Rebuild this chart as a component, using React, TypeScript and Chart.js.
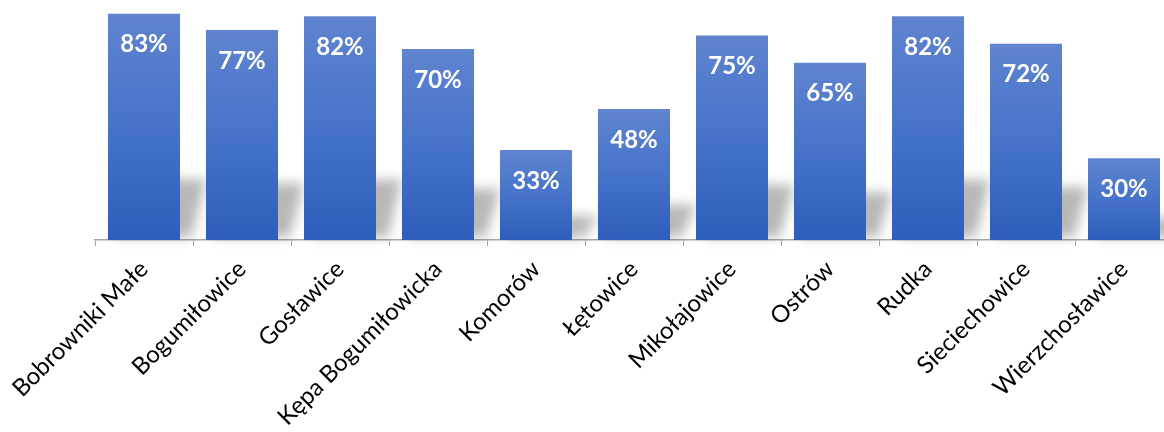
import React, { useEffect, useRef } from "react";
import { Chart, registerables } from "chart.js";

Chart.register(...registerables);

const categories = [
  "Bobrowniki Małe",
  "Bogumiłowice",
  "Gosławice",
  "Kępa Bogumiłowicka",
  "Komorów",
  "Łętowice",
  "Mikołajowice",
  "Ostrów",
  "Rudka",
  "Sieciechowice",
  "Wierzchosławice",
];
const values = [83, 77, 82, 70, 33, 48, 75, 65, 82, 72, 30];

const shadowPlugin = {
  id: "barShadow",
  beforeDatasetsDraw(chart: any) {
    const ctx = chart.ctx;
    const meta = chart.getDatasetMeta(0);
    ctx.save();
    ctx.filter = "blur(6px)";
    ctx.fillStyle = "rgba(0,0,0,0.28)";
    meta.data.forEach((bar: any) => {
      const p = bar.getProps(["x", "y", "base", "width"], true);
      const left = p.x - p.width / 2;
      const right = p.x + p.width / 2;
      const h = p.base - p.y;
      const sh = h * 0.27;
      ctx.beginPath();
      ctx.moveTo(left + 6, p.base - 3);
      ctx.lineTo(right + 12, p.base - 3);
      ctx.lineTo(right + 26, p.base - sh);
      ctx.lineTo(left + 20, p.base - sh);
      ctx.closePath();
      ctx.fill();
    });
    ctx.restore();
  },
};

const labelPlugin = {
  id: "barLabels",
  afterDatasetsDraw(chart: any) {
    const ctx = chart.ctx;
    const meta = chart.getDatasetMeta(0);
    ctx.save();
    ctx.fillStyle = "#ffffff";
    ctx.font = "bold 24px Lato";
    ctx.textAlign = "center";
    ctx.textBaseline = "middle";
    meta.data.forEach((bar: any, i: number) => {
      const p = bar.getProps(["x", "y"], true);
      ctx.fillText(values[i] + "%", p.x, p.y + 31);
    });
    ctx.restore();
  },
};

export default function App() {
  const ref = useRef<HTMLCanvasElement | null>(null);

  useEffect(() => {
    if (!ref.current) return;
    const chart = new Chart(ref.current, {
      type: "bar",
      data: {
        labels: categories,
        datasets: [
          {
            data: values,
            backgroundColor: (c: any) => {
              const ch = c.chart;
              const y = ch.scales && ch.scales.y;
              if (c.type !== "data" || !y || !c.parsed) return "#4470c4";
              const top = y.getPixelForValue(c.parsed.y);
              const base = y.getPixelForValue(0);
              if (!isFinite(top) || !isFinite(base) || top === base) return "#4470c4";
              const g = ch.ctx.createLinearGradient(0, top, 0, base);
              g.addColorStop(0, "#6084cf");
              g.addColorStop(0.5, "#4673c9");
              g.addColorStop(1, "#2e5eba");
              return g;
            },
            borderWidth: 0,
            categoryPercentage: 0.735,
            barPercentage: 1,
          },
        ],
      },
      options: {
        animation: false,
        responsive: false,
        maintainAspectRatio: false,
        layout: { padding: { left: 95, right: 7, top: 0, bottom: 0 } },
        plugins: {
          legend: { display: false },
          tooltip: { enabled: false },
          title: { display: false },
        },
        scales: {
          y: {
            display: false,
            min: 0,
            max: 88,
          },
          x: {
            offset: true,
            grid: {
              display: true,
              drawOnChartArea: false,
              drawTicks: true,
              tickLength: 6,
              color: "#a6a6a6",
              offset: true,
            },
            border: { display: true, color: "#a6a6a6", width: 1.5 },
            ticks: {
              autoSkip: false,
              minRotation: 45,
              maxRotation: 45,
              padding: 9,
              color: "#000000",
              font: { family: "Lato", size: 24 },
            },
            afterFit: (scale: any) => {
              scale.height = 192;
            },
          },
        },
      },
      plugins: [shadowPlugin, labelPlugin],
    });
    return () => chart.destroy();
  }, []);

  return (
    <div
      style={{
        position: "absolute",
        left: 0,
        top: 0,
        width: 1164,
        height: 432,
        overflow: "hidden",
        background: "#ffffff",
      }}
    >
      <canvas ref={ref} width={1180} height={432} style={{ width: 1180, height: 432, display: "block" }} />
    </div>
  );
}
